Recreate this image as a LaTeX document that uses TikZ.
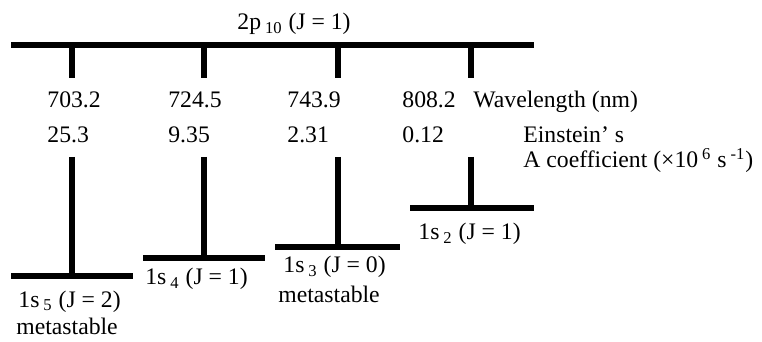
\documentclass[tikz,border=0pt]{standalone}
\usepackage{fontspec}
\setmainfont{Liberation Serif}
\usepackage{tikz}
\usetikzlibrary{positioning}

\begin{document}
\begin{tikzpicture}[x=0.5pt,y=-0.5pt,
  lvl/.style={fill=black,inner sep=0pt,minimum height=2.7pt},
  tr/.style={line width=2.7pt},
  lb/.style={anchor=base west,inner sep=0pt,font=\fontsize{11.85}{14}\selectfont}]
  \useasboundingbox (0,0) rectangle (762,342);
  % levels
  \node[lvl,minimum width=261.5pt] (p10) at (272.5,45) {};
  \node[lvl,minimum width=61pt] (s5) at (72,276) {};
  \node[lvl,minimum width=61pt] (s4) at (204,258) {};
  \node[lvl,minimum width=62.5pt] (s3) at (337.5,247) {};
  \node[lvl,minimum width=62pt] (s2) at (472,208) {};
  % level labels
  \node[lb] (lp10) at (237,30) {2p\,\textsubscript{10} (J = 1)};
  \node[lb] (ls5) at (18,307) {1s\,\textsubscript{5} (J = 2)};
  \node[lb] (ms5) at (16,335) {metastable};
  \node[lb] (ls4) at (145,285) {1s\,\textsubscript{4} (J = 1)};
  \node[lb] (ls3) at (283,273) {1s\,\textsubscript{3} (J = 0)};
  \node[lb] (ms3) at (278,303) {metastable};
  \node[lb] (ls2) at (418,240) {1s\,\textsubscript{2} (J = 1)};
  % wavelengths and A coefficients
  \node[lb] (wl1) at (47,108) {703.2};
  \node[lb] (wl2) at (168,108) {724.5};
  \node[lb] (wl3) at (287,108) {743.9};
  \node[lb] (wl4) at (402,108) {808.2};
  \node[lb] (wlt) at (473,108) {Wavelength (nm)};
  \node[lb] (ac1) at (47,143) {25.3};
  \node[lb] (ac2) at (168,143) {9.35};
  \node[lb] (ac3) at (287,143) {2.31};
  \node[lb] (ac4) at (402,143) {0.12};
  \node[lb] (act) at (523,143) {Einstein’\ s};
  \node[lb] (act2) at (523,168) {A coefficient (×10\,\textsuperscript{6} s\,\textsuperscript{-1})};
  % transitions
  \foreach \n/\x in {1/72,2/204,3/338,4/471}{
    \coordinate (g\n) at (\x,78);
    \coordinate (h\n) at (\x,157);
    \draw[tr] (g\n |- p10.south) -- (g\n);
  }
  \draw[tr] (h1) -- (h1 |- s5.north);
  \draw[tr] (h2) -- (h2 |- s4.north);
  \draw[tr] (h3) -- (h3 |- s3.north);
  \draw[tr] (h4) -- (h4 |- s2.north);
\end{tikzpicture}
\end{document}
